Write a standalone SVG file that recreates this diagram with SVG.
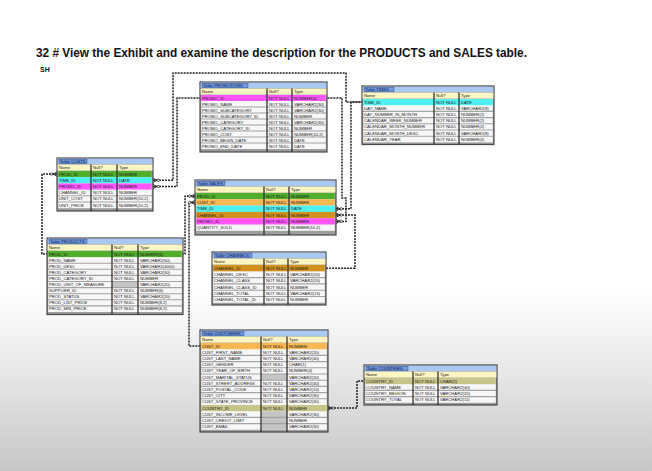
<svg xmlns="http://www.w3.org/2000/svg" width="652" height="471" viewBox="0 0 652 471">
<defs>
<linearGradient id="bg" x1="0" y1="0" x2="0" y2="1">
<stop offset="0" stop-color="#ffffff"/>
<stop offset="0.62" stop-color="#ffffff"/>
<stop offset="0.8" stop-color="#e6e6e6"/>
<stop offset="1" stop-color="#c6c6c6"/>
</linearGradient>
<marker id="crow" markerUnits="userSpaceOnUse" markerWidth="10" markerHeight="8" viewBox="0 0 10 8" refX="0" refY="4" orient="auto" overflow="visible">
<path d="M0 1.8 L4 4 L0 6.2 M0 4 H4" fill="none" stroke="#2a2a2a" stroke-width="0.9"/>
<circle cx="5.3" cy="4" r="1.2" fill="#ffffff" stroke="#2a2a2a" stroke-width="0.8"/>
</marker>
</defs>
<style>
.frame{fill:#9d9d9d;stroke:#4a4a4a;stroke-width:1.2}
.tbar{fill:#a9c9f2}
.tlabel{fill:#7399dc;stroke:#2d4f96;stroke-width:0.5}
.chdr{fill:#fdf6c3}
.body{fill:#f7f7f7}
.blank{fill:#c4c4c4}
.rl{stroke:#a3a3a3;stroke-width:1.1;fill:none}
.sep{stroke:#333333;stroke-width:1.3;fill:none}
.t{font-family:"Liberation Sans",Arial,sans-serif;font-size:4.2px;fill:#222222}
.tt{font-family:"Liberation Sans",Arial,sans-serif;font-size:4.2px;fill:#10204a}
.hg{fill:#4fae2a}.hc{fill:#4ef0f0}.hm{fill:#ff55ff}.ho{fill:#f9b853}.hb{fill:#d2901c}.hk{fill:#c9c58a}
.conn{fill:none;stroke:#222222;stroke-width:1.5;stroke-dasharray:2 1}
.title{font-family:"Liberation Sans",Arial,sans-serif;font-weight:bold;fill:#111111}
</style>
<rect x="0" y="0" width="652" height="471" fill="url(#bg)"/>
<text class="title" x="36" y="57" font-size="12" textLength="491" lengthAdjust="spacingAndGlyphs">32 # View the Exhibit and examine the description for the PRODUCTS and SALES table.</text>
<text class="title" x="40" y="72" font-size="7">SH</text>

<g id="connectors">
<path class="conn" marker-start="url(#crow)" d="M153 180.3 H173 V73 H346 V102.1 H362"/>
<path class="conn" marker-start="url(#crow)" d="M153 186.5 H177 V98 H200"/>
<path class="conn" marker-start="url(#crow)" d="M57 174.1 H42 V254 H47"/>
<path class="conn" marker-start="url(#crow)" d="M195 196.2 H185 V254 H183"/>
<path class="conn" marker-start="url(#crow)" d="M195 202.5 H189 V346.1 H200"/>
<path class="conn" marker-start="url(#crow)" d="M336 208.8 H351 V102.1 H362"/>
<path class="conn" marker-start="url(#crow)" d="M336 221.4 H346 V198 H342 V98 H327"/>
<path class="conn" marker-start="url(#crow)" d="M336 215.1 H355 V268.2 H326"/>
<path class="conn" marker-start="url(#crow)" d="M328 408.1 H357 V381.1 H364"/>
</g>

<g id="promotions">
<rect class="frame" x="200" y="82" width="127" height="70"/>
<rect class="tbar" x="200.6" y="82.6" width="125.8" height="5.6"/>
<rect class="tlabel" x="202" y="83.3" width="46" height="4.4"/>
<text class="tt" x="203" y="86.9">Table PROMOTIONS</text>
<rect class="chdr" x="200.6" y="88.6" width="125.8" height="6"/>
<text class="t" y="93.3"><tspan x="202">Name</tspan><tspan x="269">Null?</tspan><tspan x="294">Type</tspan></text>
<rect class="body" x="201.2" y="95" width="124.6" height="54"/>
<rect class="hm" x="201.2" y="95" width="124.6" height="6"/>
<path class="rl" d="M201 107 H326 M201 113 H326 M201 119 H326 M201 125 H326 M201 131 H326 M201 137 H326 M201 143 H326"/>
<path class="sep" d="M267 88.6 V152 M292 88.6 V152"/>
<text class="t"><tspan x="202" y="99.5">PROMO_ID</tspan><tspan x="202" y="105.5">PROMO_NAME</tspan><tspan x="202" y="111.5">PROMO_SUBCATEGORY</tspan><tspan x="202" y="117.5">PROMO_SUBCATEGORY_ID</tspan><tspan x="202" y="123.5">PROMO_CATEGORY</tspan><tspan x="202" y="129.5">PROMO_CATEGORY_ID</tspan><tspan x="202" y="135.5">PROMO_COST</tspan><tspan x="202" y="141.5">PROMO_BEGIN_DATE</tspan><tspan x="202" y="147.5">PROMO_END_DATE</tspan></text>
<text class="t"><tspan x="269" y="99.5">NOT NULL</tspan><tspan x="269" y="105.5">NOT NULL</tspan><tspan x="269" y="111.5">NOT NULL</tspan><tspan x="269" y="117.5">NOT NULL</tspan><tspan x="269" y="123.5">NOT NULL</tspan><tspan x="269" y="129.5">NOT NULL</tspan><tspan x="269" y="135.5">NOT NULL</tspan><tspan x="269" y="141.5">NOT NULL</tspan><tspan x="269" y="147.5">NOT NULL</tspan></text>
<text class="t"><tspan x="294" y="99.5">NUMBER(6)</tspan><tspan x="294" y="105.5">VARCHAR2(30)</tspan><tspan x="294" y="111.5">VARCHAR2(30)</tspan><tspan x="294" y="117.5">NUMBER</tspan><tspan x="294" y="123.5">VARCHAR2(30)</tspan><tspan x="294" y="129.5">NUMBER</tspan><tspan x="294" y="135.5">NUMBER(10,2)</tspan><tspan x="294" y="141.5">DATE</tspan><tspan x="294" y="147.5">DATE</tspan></text>
</g>

<g id="times">
<rect class="frame" x="362" y="86" width="132" height="58.5"/>
<rect class="tbar" x="362.6" y="86.6" width="130.8" height="5.6"/>
<rect class="tlabel" x="364" y="87.3" width="30" height="4.4"/>
<text class="tt" x="365" y="90.9">Table TIMES</text>
<rect class="chdr" x="362.6" y="92.6" width="130.8" height="6"/>
<text class="t" y="97.3"><tspan x="364">Name</tspan><tspan x="436">Null?</tspan><tspan x="461">Type</tspan></text>
<rect class="body" x="363.2" y="99" width="129.6" height="43.4"/>
<rect class="hc" x="363.2" y="99" width="129.6" height="6.2"/>
<path class="rl" d="M363 111.4 H493 M363 117.6 H493 M363 123.8 H493 M363 130 H493 M363 136.2 H493"/>
<path class="sep" d="M434 92.6 V144.5 M459 92.6 V144.5"/>
<text class="t"><tspan x="364" y="103.6">TIME_ID</tspan><tspan x="364" y="109.8">DAY_NAME</tspan><tspan x="364" y="116">DAY_NUMBER_IN_MONTH</tspan><tspan x="364" y="122.2">CALENDAR_WEEK_NUMBER</tspan><tspan x="364" y="128.4">CALENDAR_MONTH_NUMBER</tspan><tspan x="364" y="134.6">CALENDAR_MONTH_DESC</tspan><tspan x="364" y="140.8">CALENDAR_YEAR</tspan></text>
<text class="t"><tspan x="436" y="103.6">NOT NULL</tspan><tspan x="436" y="109.8">NOT NULL</tspan><tspan x="436" y="116">NOT NULL</tspan><tspan x="436" y="122.2">NOT NULL</tspan><tspan x="436" y="128.4">NOT NULL</tspan><tspan x="436" y="134.6">NOT NULL</tspan><tspan x="436" y="140.8">NOT NULL</tspan></text>
<text class="t"><tspan x="461" y="103.6">DATE</tspan><tspan x="461" y="109.8">VARCHAR2(9)</tspan><tspan x="461" y="116">NUMBER(2)</tspan><tspan x="461" y="122.2">NUMBER(2)</tspan><tspan x="461" y="128.4">NUMBER(2)</tspan><tspan x="461" y="134.6">VARCHAR2(8)</tspan><tspan x="461" y="140.8">NUMBER(4)</tspan></text>
</g>

<g id="costs">
<rect class="frame" x="57" y="158" width="96" height="53"/>
<rect class="tbar" x="57.6" y="158.6" width="94.8" height="5.6"/>
<rect class="tlabel" x="59" y="159.3" width="28" height="4.4"/>
<text class="tt" x="60" y="162.9">Table COSTS</text>
<rect class="chdr" x="57.6" y="164.6" width="94.8" height="6"/>
<text class="t" y="169.3"><tspan x="59">Name</tspan><tspan x="93">Null?</tspan><tspan x="119">Type</tspan></text>
<rect class="body" x="58.2" y="171" width="93.6" height="37.2"/>
<rect class="hg" x="58.2" y="171" width="93.6" height="6.2"/>
<rect class="hc" x="58.2" y="177.2" width="93.6" height="6.2"/>
<rect class="hm" x="58.2" y="183.4" width="93.6" height="6.2"/>
<path class="rl" d="M58 195.8 H152 M58 202 H152"/>
<path class="sep" d="M91 164.6 V211 M117 164.6 V211"/>
<text class="t"><tspan x="59" y="175.6">PROD_ID</tspan><tspan x="59" y="181.8">TIME_ID</tspan><tspan x="59" y="188">PROMO_ID</tspan><tspan x="59" y="194.2">CHANNEL_ID</tspan><tspan x="59" y="200.4">UNIT_COST</tspan><tspan x="59" y="206.6">UNIT_PRICE</tspan></text>
<text class="t"><tspan x="93" y="175.6">NOT NULL</tspan><tspan x="93" y="181.8">NOT NULL</tspan><tspan x="93" y="188">NOT NULL</tspan><tspan x="93" y="194.2">NOT NULL</tspan><tspan x="93" y="200.4">NOT NULL</tspan><tspan x="93" y="206.6">NOT NULL</tspan></text>
<text class="t"><tspan x="119" y="175.6">NUMBER</tspan><tspan x="119" y="181.8">DATE</tspan><tspan x="119" y="188">NUMBER</tspan><tspan x="119" y="194.2">NUMBER</tspan><tspan x="119" y="200.4">NUMBER(10,2)</tspan><tspan x="119" y="206.6">NUMBER(10,2)</tspan></text>
</g>

<g id="sales">
<rect class="frame" x="195" y="180" width="141" height="55"/>
<rect class="tbar" x="195.6" y="180.6" width="139.8" height="5.6"/>
<rect class="tlabel" x="197" y="181.3" width="28" height="4.4"/>
<text class="tt" x="198" y="184.9">Table SALES</text>
<rect class="chdr" x="195.6" y="186.6" width="139.8" height="6"/>
<text class="t" y="191.3"><tspan x="197">Name</tspan><tspan x="266">Null?</tspan><tspan x="291">Type</tspan></text>
<rect class="body" x="196.2" y="193" width="138.6" height="37.8"/>
<rect class="hg" x="196.2" y="193" width="138.6" height="6.3"/>
<rect class="ho" x="196.2" y="199.3" width="138.6" height="6.3"/>
<rect class="hc" x="196.2" y="205.6" width="138.6" height="6.3"/>
<rect class="hb" x="196.2" y="211.9" width="138.6" height="6.3"/>
<rect class="hm" x="196.2" y="218.2" width="138.6" height="6.3"/>
<path class="sep" d="M264 186.6 V235 M289 186.6 V235"/>
<text class="t"><tspan x="197" y="197.6">PROD_ID</tspan><tspan x="197" y="203.9">CUST_ID</tspan><tspan x="197" y="210.2">TIME_ID</tspan><tspan x="197" y="216.5">CHANNEL_ID</tspan><tspan x="197" y="222.8">PROMO_ID</tspan><tspan x="197" y="229.1">QUANTITY_SOLD</tspan></text>
<text class="t"><tspan x="266" y="197.6">NOT NULL</tspan><tspan x="266" y="203.9">NOT NULL</tspan><tspan x="266" y="210.2">NOT NULL</tspan><tspan x="266" y="216.5">NOT NULL</tspan><tspan x="266" y="222.8">NOT NULL</tspan><tspan x="266" y="229.1">NOT NULL</tspan></text>
<text class="t"><tspan x="291" y="197.6">NUMBER</tspan><tspan x="291" y="203.9">NUMBER</tspan><tspan x="291" y="210.2">DATE</tspan><tspan x="291" y="216.5">NUMBER</tspan><tspan x="291" y="222.8">NUMBER</tspan><tspan x="291" y="229.1">NUMBER(10,2)</tspan></text>
</g>

<g id="products">
<rect class="frame" x="47" y="238" width="136" height="76.5"/>
<rect class="tbar" x="47.6" y="238.6" width="134.8" height="5.6"/>
<rect class="tlabel" x="49" y="239.3" width="38" height="4.4"/>
<text class="tt" x="50" y="242.9">Table PRODUCTS</text>
<rect class="chdr" x="47.6" y="244.6" width="134.8" height="6"/>
<text class="t" y="249.3"><tspan x="49">Name</tspan><tspan x="114">Null?</tspan><tspan x="140">Type</tspan></text>
<rect class="body" x="48.2" y="251" width="133.6" height="61"/>
<rect class="hg" x="48.2" y="251" width="133.6" height="6.1"/>
<rect class="blank" x="112" y="281.5" width="26" height="6.1"/>
<path class="rl" d="M48 263.2 H182 M48 269.3 H182 M48 275.4 H182 M48 281.5 H182 M48 287.6 H182 M48 293.7 H182 M48 299.8 H182 M48 305.9 H182"/>
<path class="sep" d="M112 244.6 V314.5 M138 244.6 V314.5"/>
<text class="t"><tspan x="49" y="255.5">PROD_ID</tspan><tspan x="49" y="261.6">PROD_NAME</tspan><tspan x="49" y="267.7">PROD_DESC</tspan><tspan x="49" y="273.8">PROD_CATEGORY</tspan><tspan x="49" y="279.9">PROD_CATEGORY_ID</tspan><tspan x="49" y="286">PROD_UNIT_OF_MEASURE</tspan><tspan x="49" y="292.1">SUPPLIER_ID</tspan><tspan x="49" y="298.2">PROD_STATUS</tspan><tspan x="49" y="304.3">PROD_LIST_PRICE</tspan><tspan x="49" y="310.4">PROD_MIN_PRICE</tspan></text>
<text class="t"><tspan x="114" y="255.5">NOT NULL</tspan><tspan x="114" y="261.6">NOT NULL</tspan><tspan x="114" y="267.7">NOT NULL</tspan><tspan x="114" y="273.8">NOT NULL</tspan><tspan x="114" y="279.9">NOT NULL</tspan><tspan x="114" y="292.1">NOT NULL</tspan><tspan x="114" y="298.2">NOT NULL</tspan><tspan x="114" y="304.3">NOT NULL</tspan><tspan x="114" y="310.4">NOT NULL</tspan></text>
<text class="t"><tspan x="140" y="255.5">NUMBER(6)</tspan><tspan x="140" y="261.6">VARCHAR2(50)</tspan><tspan x="140" y="267.7">VARCHAR2(4000)</tspan><tspan x="140" y="273.8">VARCHAR2(50)</tspan><tspan x="140" y="279.9">NUMBER</tspan><tspan x="140" y="286">VARCHAR2(20)</tspan><tspan x="140" y="292.1">NUMBER(6)</tspan><tspan x="140" y="298.2">VARCHAR2(20)</tspan><tspan x="140" y="304.3">NUMBER(8,2)</tspan><tspan x="140" y="310.4">NUMBER(8,2)</tspan></text>
</g>

<g id="channels">
<rect class="frame" x="212" y="252" width="114" height="53"/>
<rect class="tbar" x="212.6" y="252.6" width="112.8" height="5.6"/>
<rect class="tlabel" x="214" y="253.3" width="38" height="4.4"/>
<text class="tt" x="215" y="256.9">Table CHANNELS</text>
<rect class="chdr" x="212.6" y="258.6" width="112.8" height="6"/>
<text class="t" y="263.3"><tspan x="214">Name</tspan><tspan x="266">Null?</tspan><tspan x="290">Type</tspan></text>
<rect class="body" x="213.2" y="265" width="111.6" height="37.8"/>
<rect class="hb" x="213.2" y="265" width="111.6" height="6.3"/>
<path class="rl" d="M213 277.6 H325 M213 283.9 H325 M213 290.2 H325 M213 296.5 H325"/>
<path class="sep" d="M264 258.6 V305 M288 258.6 V305"/>
<text class="t"><tspan x="214" y="269.6">CHANNEL_ID</tspan><tspan x="214" y="275.9">CHANNEL_DESC</tspan><tspan x="214" y="282.2">CHANNEL_CLASS</tspan><tspan x="214" y="288.5">CHANNEL_CLASS_ID</tspan><tspan x="214" y="294.8">CHANNEL_TOTAL</tspan><tspan x="214" y="301.1">CHANNEL_TOTAL_ID</tspan></text>
<text class="t"><tspan x="266" y="269.6">NOT NULL</tspan><tspan x="266" y="275.9">NOT NULL</tspan><tspan x="266" y="282.2">NOT NULL</tspan><tspan x="266" y="288.5">NOT NULL</tspan><tspan x="266" y="294.8">NOT NULL</tspan><tspan x="266" y="301.1">NOT NULL</tspan></text>
<text class="t"><tspan x="290" y="269.6">NUMBER</tspan><tspan x="290" y="275.9">VARCHAR2(20)</tspan><tspan x="290" y="282.2">VARCHAR2(20)</tspan><tspan x="290" y="288.5">NUMBER</tspan><tspan x="290" y="294.8">VARCHAR2(13)</tspan><tspan x="290" y="301.1">NUMBER</tspan></text>
</g>

<g id="customers">
<rect class="frame" x="200" y="330" width="128" height="102"/>
<rect class="tbar" x="200.6" y="330.6" width="126.8" height="5.6"/>
<rect class="tlabel" x="202" y="331.3" width="42" height="4.4"/>
<text class="tt" x="203" y="334.9">Table CUSTOMERS</text>
<rect class="chdr" x="200.6" y="336.6" width="126.8" height="6"/>
<text class="t" y="341.3"><tspan x="202">Name</tspan><tspan x="263">Null?</tspan><tspan x="289">Type</tspan></text>
<rect class="body" x="201.2" y="343" width="125.6" height="86.8"/>
<rect class="ho" x="201.2" y="343" width="125.6" height="6.2"/>
<rect class="hk" x="201.2" y="405" width="125.6" height="6.2"/>
<rect class="blank" x="261" y="374" width="26" height="6.2"/>
<rect class="blank" x="261" y="411.2" width="26" height="18.6"/>
<path class="rl" d="M201 355.4 H327 M201 361.6 H327 M201 367.8 H327 M201 374 H327 M201 380.2 H327 M201 386.4 H327 M201 392.6 H327 M201 398.8 H327 M201 417.4 H327 M201 423.6 H327"/>
<path class="sep" d="M261 336.6 V432 M287 336.6 V432"/>
<text class="t"><tspan x="202" y="347.6">CUST_ID</tspan><tspan x="202" y="353.8">CUST_FIRST_NAME</tspan><tspan x="202" y="360">CUST_LAST_NAME</tspan><tspan x="202" y="366.2">CUST_GENDER</tspan><tspan x="202" y="372.4">CUST_YEAR_OF_BIRTH</tspan><tspan x="202" y="378.6">CUST_MARITAL_STATUS</tspan><tspan x="202" y="384.8">CUST_STREET_ADDRESS</tspan><tspan x="202" y="391">CUST_POSTAL_CODE</tspan><tspan x="202" y="397.2">CUST_CITY</tspan><tspan x="202" y="403.4">CUST_STATE_PROVINCE</tspan><tspan x="202" y="409.6">COUNTRY_ID</tspan><tspan x="202" y="415.8">CUST_INCOME_LEVEL</tspan><tspan x="202" y="422">CUST_CREDIT_LIMIT</tspan><tspan x="202" y="428.2">CUST_EMAIL</tspan></text>
<text class="t"><tspan x="263" y="347.6">NOT NULL</tspan><tspan x="263" y="353.8">NOT NULL</tspan><tspan x="263" y="360">NOT NULL</tspan><tspan x="263" y="366.2">NOT NULL</tspan><tspan x="263" y="372.4">NOT NULL</tspan><tspan x="263" y="384.8">NOT NULL</tspan><tspan x="263" y="391">NOT NULL</tspan><tspan x="263" y="397.2">NOT NULL</tspan><tspan x="263" y="403.4">NOT NULL</tspan><tspan x="263" y="409.6">NOT NULL</tspan></text>
<text class="t"><tspan x="289" y="347.6">NUMBER</tspan><tspan x="289" y="353.8">VARCHAR2(20)</tspan><tspan x="289" y="360">VARCHAR2(40)</tspan><tspan x="289" y="366.2">CHAR(1)</tspan><tspan x="289" y="372.4">NUMBER(4)</tspan><tspan x="289" y="378.6">VARCHAR2(20)</tspan><tspan x="289" y="384.8">VARCHAR2(40)</tspan><tspan x="289" y="391">VARCHAR2(10)</tspan><tspan x="289" y="397.2">VARCHAR2(30)</tspan><tspan x="289" y="403.4">VARCHAR2(40)</tspan><tspan x="289" y="409.6">NUMBER</tspan><tspan x="289" y="415.8">VARCHAR2(30)</tspan><tspan x="289" y="422">NUMBER</tspan><tspan x="289" y="428.2">VARCHAR2(30)</tspan></text>
</g>

<g id="countries">
<rect class="frame" x="364" y="365" width="133" height="40"/>
<rect class="tbar" x="364.6" y="365.6" width="131.8" height="5.6"/>
<rect class="tlabel" x="366" y="366.3" width="42" height="4.4"/>
<text class="tt" x="367" y="369.9">Table COUNTRIES</text>
<rect class="chdr" x="364.6" y="371.6" width="131.8" height="6"/>
<text class="t" y="376.3"><tspan x="366">Name</tspan><tspan x="415">Null?</tspan><tspan x="440">Type</tspan></text>
<rect class="body" x="365.2" y="378" width="130.6" height="24.8"/>
<rect class="hk" x="365.2" y="378" width="130.6" height="6.2"/>
<path class="rl" d="M365 390.4 H496 M365 396.6 H496"/>
<path class="sep" d="M413 371.6 V405 M438 371.6 V405"/>
<text class="t"><tspan x="366" y="382.6">COUNTRY_ID</tspan><tspan x="366" y="388.8">COUNTRY_NAME</tspan><tspan x="366" y="395">COUNTRY_REGION</tspan><tspan x="366" y="401.2">COUNTRY_TOTAL</tspan></text>
<text class="t"><tspan x="415" y="382.6">NOT NULL</tspan><tspan x="415" y="388.8">NOT NULL</tspan><tspan x="415" y="395">NOT NULL</tspan><tspan x="415" y="401.2">NOT NULL</tspan></text>
<text class="t"><tspan x="440" y="382.6">CHAR(2)</tspan><tspan x="440" y="388.8">VARCHAR2(40)</tspan><tspan x="440" y="395">VARCHAR2(20)</tspan><tspan x="440" y="401.2">VARCHAR2(11)</tspan></text>
</g>
</svg>
